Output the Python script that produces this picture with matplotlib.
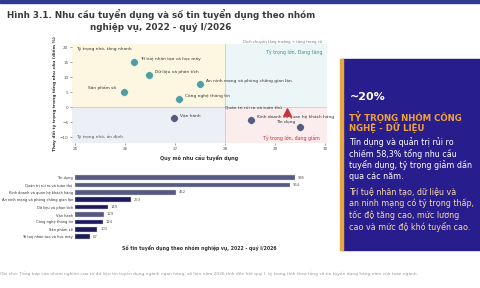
import matplotlib.pyplot as plt
from matplotlib.patches import Rectangle

# scatter data: quy mo (x), thay doi ty trong (y)
groups = ['Trí tuệ nhân tạo và học máy', 'Dữ liệu và phân tích', 'Sản phẩm số',
          'An ninh mạng và phòng chống gian lận', 'Công nghệ thông tin', 'Vận hành',
          'Kinh doanh và quan hệ khách hàng', 'Quản trị rủi ro và tuân thủ', 'Tín dụng']
scale = [26.18, 26.48, 25.98, 27.5, 27.08, 26.98, 28.52, 29.24, 29.5]
share_change = [15.0, 10.7, 5.0, 7.7, 2.7, -3.7, -4.3, -1.7, -6.7]
is_tech = [True, True, True, True, True, False, False, False, False]

# bar data: so tin tuyen dung
bar_labels = ['Tín dụng', 'Quản trị rủi ro và tuân thủ', 'Kinh doanh và quan hệ khách hàng',
              'An ninh mạng và phòng chống gian lận', 'Dữ liệu và phân tích', 'Vận hành',
              'Công nghệ thông tin', 'Sản phẩm số', 'Trí tuệ nhân tạo và học máy']
bar_values = [985, 964, 452, 253, 149, 129, 124, 101, 67]
bar_tech = [False, False, False, True, True, False, True, True, True]

navy = '#1d1b5e'
slate = '#575a80'
teal = '#4f9ea3'

fig = plt.figure(figsize=(4.8, 2.88), dpi=100)

# top stripe
fig.patches.append(Rectangle((0, 0.988), 1, 0.012, transform=fig.transFigure,
                             color='#2e3a8f', zorder=0))

fig.text(0.335, 0.95, 'Hình 3.1. Nhu cầu tuyển dụng và số tin tuyển dụng theo nhóm',
         ha='center', va='center', fontsize=6.3, fontweight='bold', color='#3a3a3a')
fig.text(0.335, 0.905, 'nghiệp vụ, 2022 - quý I/2026',
         ha='center', va='center', fontsize=6.3, fontweight='bold', color='#3a3a3a')

# ---- scatter ----
ax = fig.add_axes([0.15, 0.503, 0.531, 0.344])
x0, x1, y0, y1 = 24.94, 30.04, -12, 21
ax.set_xlim(x0, x1)
ax.set_ylim(y0, y1)
ax.add_patch(Rectangle((x0, 0), 28 - x0, y1, color='#fdf6e0', zorder=0))
ax.add_patch(Rectangle((28, 0), x1 - 28, y1, color='#edf6f7', zorder=0))
ax.add_patch(Rectangle((x0, y0), 28 - x0, -y0, color='#edeff7', zorder=0))
ax.add_patch(Rectangle((28, y0), x1 - 28, -y0, color='#fbeded', zorder=0))
ax.axhline(0, color='#cccccc', lw=0.6, zorder=1)
ax.axvline(28, color='#cccccc', lw=0.6, zorder=1)
for s in ax.spines.values():
    s.set_visible(False)
ax.set_xticks([25, 26, 27, 28, 29, 30])
ax.set_yticks([-10, -5, 0, 5, 10, 15, 20])
ax.tick_params(labelsize=3, length=1.2, width=0.4, pad=1.5, colors='#555555')
ax.set_xlabel('Quy mô nhu cầu tuyển dụng', fontsize=3.5, fontweight='bold',
              color='#333333', labelpad=3)
ax.set_ylabel('Thay đổi tỷ trọng trong tổng nhu cầu (điểm %)', fontsize=3.2,
              fontweight='bold', color='#333333', labelpad=2)

fs = 3.2
for g, xv, yv, t in zip(groups, scale, share_change, is_tech):
    if g == 'Quản trị rủi ro và tuân thủ':
        ax.scatter(xv, yv, marker='^', s=28, color='#c8323c', zorder=3)
        ax.text(xv - 0.1, yv + 1.5, g, fontsize=fs, ha='right', va='center', color='#333333')
        continue
    ax.scatter(xv, yv, s=30, color=teal if t else slate, edgecolor='white', lw=0.3, zorder=3)
    if g == 'Sản phẩm số':
        ax.text(xv - 0.15, yv + 1.3, g, fontsize=fs, ha='right', va='center', color='#333333')
    elif g == 'Tín dụng':
        ax.text(xv - 0.1, yv + 1.8, g, fontsize=fs, ha='right', va='center', color='#333333')
    else:
        ax.text(xv + 0.12, yv + 0.9, g, fontsize=fs, ha='left', va='center', color='#333333')

ax.text(25.02, 19.5, 'Tỷ trọng nhỏ, tăng nhanh', fontsize=3.2, color='#333333', va='center')
ax.text(25.02, -10, 'Tỷ trọng nhỏ, ổn định', fontsize=3.2, color='#555555', va='center')
ax.text(29.95, 21.8, 'Dịch chuyển tăng trưởng + tăng trọng số', fontsize=2.7,
        color='#777777', ha='right', va='center')
ax.text(29.95, 18.4, 'Tỷ trọng lớn, Đang tăng', fontsize=3.4, color='#3d8f96',
        ha='right', va='center')
ax.text(29.9, -10.3, 'Tỷ trọng lớn, đang giảm', fontsize=3.4, color='#c8323c',
        ha='right', va='center')

# ---- bars ----
bx = fig.add_axes([0.156, 0.163, 0.542, 0.236])
ypos = list(range(len(bar_labels)))[::-1]
bx.barh(ypos, bar_values, height=0.62,
        color=[navy if t else slate for t in bar_tech], edgecolor='#c9cbe0', lw=0.3)
for yp, v in zip(ypos, bar_values):
    bx.text(v + 12, yp, str(v), fontsize=2.7, va='center', color='#555555')
bx.set_yticks(ypos)
bx.set_yticklabels(bar_labels, fontsize=2.6, color='#333333')
bx.set_xlim(0, 1164)
bx.set_ylim(-0.6, len(bar_labels) - 0.4)
bx.set_xticks([])
bx.tick_params(axis='y', length=0, pad=1.5)
for s in bx.spines.values():
    s.set_visible(False)
fig.text(0.415, 0.138, 'Số tin tuyển dụng theo nhóm nghiệp vụ, 2022 - quý I/2026',
         ha='center', va='center', fontsize=3.3, fontweight='bold', color='#333333')

# ---- right info box ----
fig.patches.append(Rectangle((0.712, 0.132), 0.29, 0.663, transform=fig.transFigure,
                             color='#281d8c', zorder=1))
fig.patches.append(Rectangle((0.708, 0.132), 0.006, 0.663, transform=fig.transFigure,
                             color='#e6a640', zorder=2))
tx = 0.728
fig.text(tx, 0.663, '~20%', fontsize=8, fontweight='bold', color='white', va='center')
fig.text(tx, 0.594, 'TỶ TRỌNG NHÓM CÔNG', fontsize=6.2, fontweight='bold',
         color='#f0a23a', va='center')
fig.text(tx, 0.556, 'NGHỆ - DỮ LIỆU', fontsize=6.2, fontweight='bold', color='#f0a23a', va='center')
body1 = ['Tín dụng và quản trị rủi ro',
         'chiếm 58,3% tổng nhu cầu',
         'tuyển dụng, tỷ trọng giảm dần',
         'qua các năm.']
body2 = ['Trí tuệ nhân tạo, dữ liệu và',
         'an ninh mạng có tỷ trọng thấp,',
         'tốc độ tăng cao, mức lương',
         'cao và mức độ khó tuyển cao.']
for i, line in enumerate(body1):
    fig.text(tx, 0.507 - i * 0.040, line, fontsize=5.8, color='white', va='center')
for i, line in enumerate(body2):
    fig.text(tx, 0.333 - i * 0.040, line, fontsize=5.8, color='#f6d9a8', va='center')

fig.text(0.0, 0.048, 'Ghi chú: Tổng hợp của nhóm nghiên cứu từ dữ liệu tin tuyển dụng ngành ngân hàng; '
         'số liệu năm 2026 tính đến hết quý I; tỷ trọng tính theo tổng số tin tuyển dụng hằng năm của toàn ngành.',
         fontsize=3.2, color='#999999', va='center')

fig.savefig('out.png', dpi=100)
